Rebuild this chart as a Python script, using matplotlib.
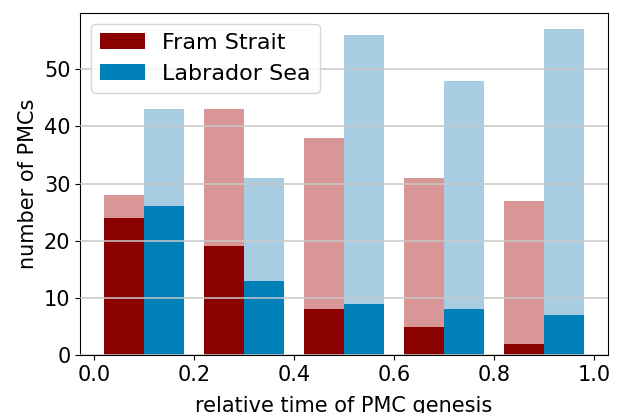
import numpy as np
import matplotlib
matplotlib.use("Agg")
import matplotlib.pyplot as plt

# counts per bin of relative time (0-1, five bins)
bin_edges = [0.0, 0.2, 0.4, 0.6, 0.8, 1.0]
fram_all = [28, 43, 38, 31, 27]
fram_sub = [24, 19, 8, 5, 2]
lab_all = [43, 31, 56, 48, 57]
lab_sub = [26, 13, 9, 8, 7]

plt.rcParams['font.size'] = 15
centers = (np.array(bin_edges[:-1]) + np.array(bin_edges[1:])) / 2

fig = plt.figure(figsize=(6.21, 4.13), dpi=100)
ax = fig.add_axes([0.129, 0.14, 0.85, 0.829])

ax.hist([centers, centers], bins=bin_edges, weights=[fram_all, lab_all],
        color=['#d99696', '#a8cde2'])
ax.hist([centers, centers], bins=bin_edges, weights=[fram_sub, lab_sub],
        color=['#8b0000', '#0080b8'], label=['Fram Strait', 'Labrador Sea'])

ax.yaxis.grid(True, color='#c8c8c8', lw=1.1, zorder=5)
ax.set_axisbelow(False)
ax.set_xticks([0.0, 0.2, 0.4, 0.6, 0.8, 1.0])
ax.set_yticks([0, 10, 20, 30, 40, 50])
ax.set_xlabel('relative time of PMC genesis', labelpad=8)
ax.set_ylabel('number of PMCs')
ax.legend(loc='upper left', fontsize=16)

fig.savefig('out.png', dpi=100)
